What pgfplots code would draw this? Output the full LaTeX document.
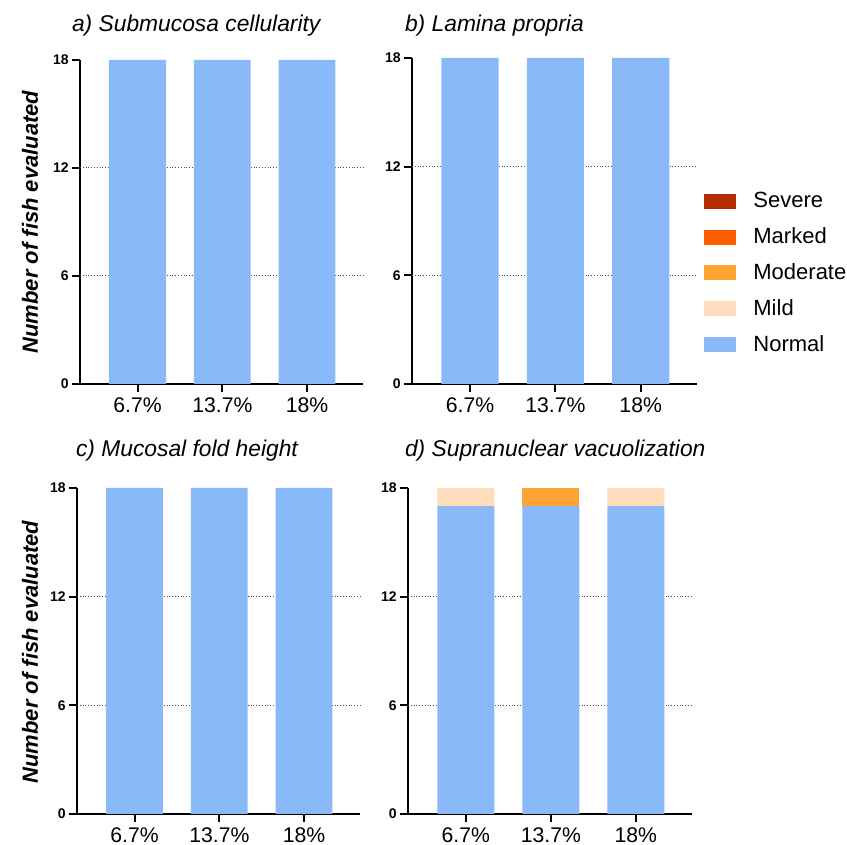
\documentclass[border=0pt]{standalone}
\usepackage{fontspec}
\setmainfont{Liberation Sans}
\usepackage{pgfplots}
\pgfplotsset{compat=1.18}

\definecolor{cNormal}{RGB}{138,185,250}
\definecolor{cMild}{RGB}{255,221,188}
\definecolor{cModerate}{RGB}{255,163,51}
\definecolor{cMarked}{RGB}{255,92,0}
\definecolor{cSevere}{RGB}{180,45,0}

\pgfplotsset{
  panel/.style={
    scale only axis, anchor=south west,
    ybar stacked, bar width=0.67,
    axis lines*=left, axis line style={line width=1pt, -},
    xmin=-0.68, xmax=2.66, ymin=0, ymax=18,
    xtick={0,1,2}, xticklabels={6.7\%,13.7\%,18\%},
    ytick={0,6,12,18}, yticklabels={0,6,12,18},
    tick align=outside, major tick length=4pt,
    tick style={line width=1pt, black},
    xticklabel style={font=\fontsize{10.6}{12}\selectfont, inner sep=2.5pt},
    yticklabel style={font=\bfseries\fontsize{7}{8}\selectfont, inner sep=1.5pt},
    extra y ticks={6,12}, extra y tick labels={},
    extra y tick style={grid=major, major tick length=0pt},
    grid style={densely dotted, black!70, line width=0.5pt},
    every axis plot/.append style={draw=none},
  },
}
\tikzset{
  ttl/.style={anchor=base west, font=\itshape\fontsize{11.4}{13}\selectfont},
  ylab/.style={rotate=90, font=\bfseries\itshape\fontsize{11}{13}\selectfont},
}

\begin{document}
\begin{tikzpicture}
\path[use as bounding box] (0,0) rectangle (423.5pt,422.5pt);

% a) Submucosa cellularity
\begin{axis}[panel, at={(40pt,230.5pt)}, width=141.5pt, height=162pt]
\addplot[fill=cNormal] coordinates {(0,18) (1,18) (2,18)};
\end{axis}

% b) Lamina propria (carries the legend)
\begin{axis}[panel, at={(206pt,230.5pt)}, width=142.5pt, height=163pt,
  reverse legend, legend cell align=left,
  legend image code/.code={\fill[#1] (0pt,-3.75pt) rectangle (16pt,3.75pt);},
  legend style={draw=none, fill=none, at={(1.0246,0.34)}, anchor=west,
    font=\fontsize{11}{13}\selectfont, inner sep=0pt, row sep=5.45pt,
    nodes={inner sep=1.5pt}, /tikz/every odd column/.append style={column sep=7pt}}]
\addplot[fill=cNormal] coordinates {(0,18) (1,18) (2,18)};
\addplot[fill=cMild] coordinates {(0,0) (1,0) (2,0)};
\addplot[fill=cModerate] coordinates {(0,0) (1,0) (2,0)};
\addplot[fill=cMarked] coordinates {(0,0) (1,0) (2,0)};
\addplot[fill=cSevere] coordinates {(0,0) (1,0) (2,0)};
\legend{Normal, Mild, Moderate, Marked, Severe}
\end{axis}

% c) Mucosal fold height
\begin{axis}[panel, at={(38.5pt,15.5pt)}, width=141.5pt, height=163pt]
\addplot[fill=cNormal] coordinates {(0,18) (1,18) (2,18)};
\end{axis}

% d) Supranuclear vacuolization
\begin{axis}[panel, at={(204pt,15.5pt)}, width=142pt, height=163pt]
\addplot[fill=cNormal] coordinates {(0,17) (1,17) (2,17)};
\addplot[fill=cMild] coordinates {(0,1) (1,0) (2,1)};
\addplot[fill=cModerate] coordinates {(0,0) (1,1) (2,0)};
\end{axis}

\node[ttl] at (32.5pt,406.5pt) {a) Submucosa cellularity};
\node[ttl] at (199pt,406.5pt) {b) Lamina propria};
\node[ttl] at (34.5pt,194pt) {c) Mucosal fold height};
\node[ttl] at (199pt,194pt) {d) Supranuclear vacuolization};

\node[ylab] at (15pt,311.5pt) {Number of fish evaluated};
\node[ylab] at (15pt,96.5pt) {Number of fish evaluated};
\end{tikzpicture}
\end{document}
